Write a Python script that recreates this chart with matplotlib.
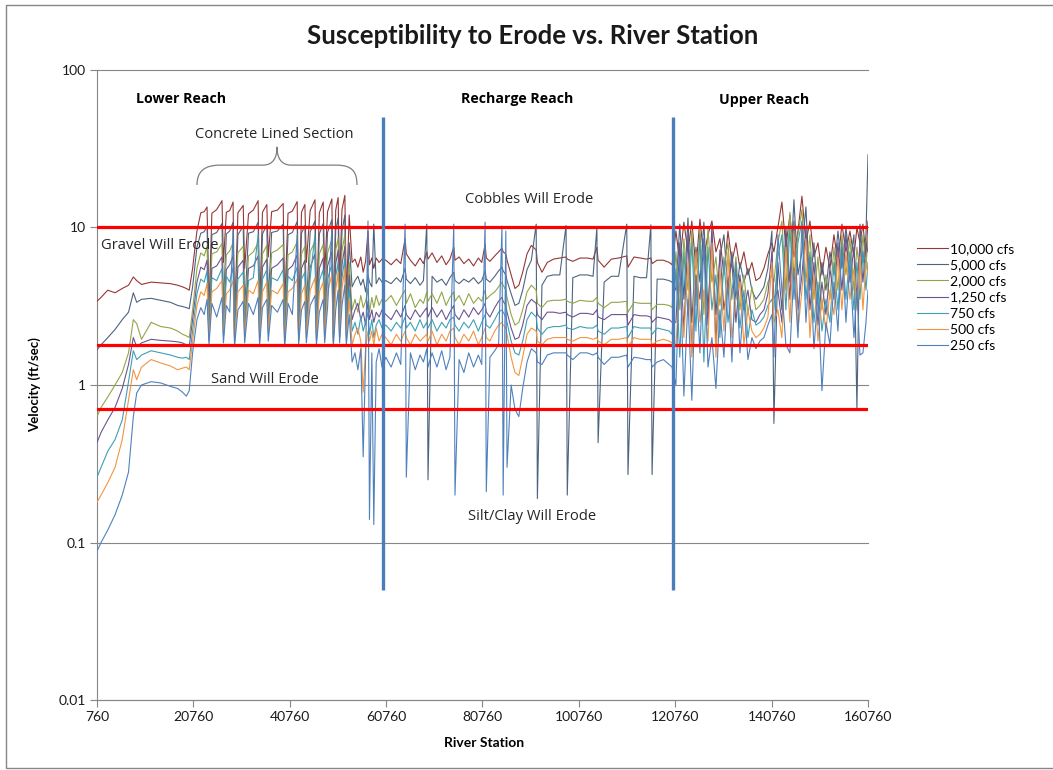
import matplotlib.pyplot as plt
from matplotlib.path import Path
from matplotlib.patches import PathPatch, Rectangle
from matplotlib.ticker import FixedLocator, FixedFormatter, NullLocator

# river stations shared by every flow profile (lower, concrete, transition, recharge, upper)
stations = [
    760, 1600, 3000, 4500, 6000, 7300, 8300, 9000, 10000, 12000, 14000, 16000, 17500, 18500, 19300, 19900,
    20600, 21500,
    22300, 23000, 23600, 24000, 24600, 25600, 26700, 27000, 27600, 28300, 29000, 29300, 30000, 31100,
    31400, 32200, 33200, 34200, 34500, 35100, 36000, 36300, 37000, 38200, 39400, 39700, 40400, 41300,
    42300, 42600, 43200, 43900, 44200, 45000, 46000, 46300, 46900, 47700, 48000, 48600, 49500, 49800,
    50300, 50800, 51100, 51600, 52200, 52500,
    53100, 53700, 54300, 54900, 55500, 56000, 56500, 57000, 57300, 57800, 58200, 58700, 59300, 59900,
    60700, 61800, 62900, 63800, 64700, 64950, 65800, 66800, 67800, 68500, 69200, 69450, 70300, 71300,
    72300, 73200, 74000, 74800, 75050, 75900, 76900, 77900, 78900, 79900, 80600, 81300, 81550, 82300,
    83300, 84100, 84800, 85050, 85600, 85850, 86700, 87500, 88300, 89100, 90000, 90900, 91900, 92150,
    93100, 94200, 95500, 96800, 98100, 98350, 99500, 101000, 102500, 103700, 104500, 104750, 106000,
    107500, 109000, 110700, 110950, 112200, 113500, 114800, 115700, 115950, 117000, 118300, 119500, 120100,
    120900, 121700, 122550, 123400, 124200, 125050, 125880, 126700, 127550, 128370, 129200, 130030,
    130860, 131700, 132520, 133350, 134180, 135010, 135840, 136670, 137500, 138330, 139160, 139990,
    140820, 141230, 142060, 142890, 143720, 144550, 145390, 146220, 147050, 147880, 148710, 149540,
    150370, 151200, 152030, 152860, 153690, 154520, 155350, 156180, 157010, 157840, 158460, 159090,
    159710, 160340, 160760,
]

v10000 = [
    3.4, 3.6, 4.0, 3.85, 4.1, 4.3, 4.85, 4.6, 4.35, 4.5, 4.45, 4.4, 4.3, 4.2, 4.1, 4.0,
    5.5, 9.5,
    12.4, 12.6, 13.5, 3.0, 12.3, 13.0, 14.8, 6.0, 12.5, 12.8, 14.5, 2.5, 12.4, 13.8, 5.5, 12.2, 12.9, 14.8,
    2.8, 12.5, 14.0, 6.5, 12.6, 12.9, 14.2, 3.2, 12.3, 12.7, 14.6, 2.6, 12.5, 14.0, 6.0, 12.8, 15.0, 3.0,
    12.4, 14.5, 5.0, 12.6, 15.2, 2.7, 12.9, 15.5, 4.5, 13.0, 16.0, 3.5,
    12.0, 6.0, 6.3, 5.6, 6.5, 5.2, 6.1, 9.5, 5.8, 6.4, 5.5, 6.4, 6.0, 6.3,
    6.2, 5.8, 6.3, 5.9, 8.5, 6.8, 6.2, 5.7, 6.4, 5.9, 7.0, 6.3, 6.9, 6.0, 6.6, 5.8, 6.3, 7.5, 6.2, 6.5,
    5.9, 6.3, 5.7, 6.4, 6.0, 7.8, 6.4, 6.1, 6.6, 7.0, 7.4, 7.0, 6.8, 6.2, 5.0, 4.1, 4.3, 5.2, 6.8, 7.7,
    7.2, 6.0, 5.2, 6.0, 6.3, 6.4, 6.5, 6.3, 6.1, 6.4, 6.4, 6.3, 7.5, 6.2, 5.6, 6.3, 6.4, 6.6, 5.6, 6.5,
    6.4, 6.3, 6.4, 5.9, 6.2, 6.2, 6.0, 5.8,
    9.5, 6.0, 10.8, 7.0, 11.0, 5.5, 11.3, 6.5, 9.0, 11.0, 7.0, 8.5, 5.0, 9.5, 6.0, 8.0, 5.5, 7.0, 5.0,
    6.0, 4.6, 4.8, 5.5, 6.8, 8.0, 7.0, 10.0, 14.5, 7.5, 12.0, 6.5, 9.5, 15.8, 8.0, 11.0, 6.5, 8.0, 5.0,
    7.5, 5.5, 9.0, 6.0, 10.5, 7.0, 9.5, 6.5, 10.0, 8.0, 10.5, 6.5, 11.0,
]

v5000 = [
    1.67, 1.8, 2.0, 2.25, 2.6, 2.9, 3.85, 3.35, 3.5, 3.55, 3.45, 3.35, 3.2, 3.15, 3.1, 3.05,
    4.2, 7.5,
    9.2, 9.4, 10.2, 2.6, 9.0, 9.3, 10.6, 3.2, 9.1, 9.5, 10.8, 2.3, 9.0, 10.2, 3.0, 9.2, 9.4, 10.8,
    2.4, 9.1, 10.4, 3.4, 9.3, 9.5, 10.5, 2.5, 9.0, 9.3, 10.9, 2.3, 9.2, 10.3, 3.1, 9.4, 11.0, 2.5,
    9.1, 10.6, 2.9, 9.3, 11.2, 2.3, 9.6, 11.5, 2.8, 9.5, 12.0, 2.6,
    8.0, 4.2, 4.6, 4.9, 4.3, 4.7, 3.9, 5.0, 4.5, 4.2, 10.5, 4.4, 4.8, 4.5,
    4.6, 4.4, 4.8, 4.5, 5.5, 4.7, 4.4, 4.8, 4.3, 4.6, 10.5, 0.25, 4.9, 4.5, 4.7, 4.3, 4.8, 5.2, 4.6, 4.4,
    4.7, 4.5, 4.8, 4.4, 4.6, 5.3, 4.7, 4.5, 4.9, 5.3, 5.6, 5.3, 5.0, 4.6, 3.8, 3.2, 3.3, 4.0, 5.4, 6.2,
    10.5, 0.19, 4.3, 4.9, 5.0, 5.0, 10.3, 0.2, 4.8, 5.0, 5.0, 4.9, 10.0, 0.43, 4.5, 4.9, 4.9, 10.5, 0.27,
    4.9, 4.8, 4.8, 10.4, 0.27, 4.7, 4.7, 4.6, 4.5,
    4.0, 10.5, 3.5, 11.5, 2.5, 7.5, 4.5, 10.8, 3.0, 8.5, 2.8, 6.5, 9.0, 4.0, 7.0, 3.5, 6.0, 4.5, 5.5,
    4.0, 3.5, 3.8, 4.2, 5.5, 9.5, 0.57, 6.0, 3.0, 10.0, 4.5, 15.0, 5.0, 7.0, 13.5, 4.0, 8.0, 3.5, 6.0,
    4.0, 7.0, 5.0, 9.5, 5.5, 10.0, 6.0, 9.0, 0.7, 10.5, 6.0, 9.0, 29.0,
]

v2000 = [
    0.63, 0.72, 0.84, 1.0, 1.2, 1.6, 2.6, 2.45, 1.95, 2.5, 2.35, 2.3, 2.2, 2.1, 2.05, 2.0,
    3.0, 5.5,
    6.9, 6.6, 7.6, 2.2, 6.8, 7.0, 7.9, 2.6, 6.7, 7.1, 8.0, 2.1, 6.9, 7.6, 2.5, 6.6, 7.0, 8.0,
    2.2, 6.8, 7.7, 2.7, 6.9, 7.2, 7.8, 2.2, 6.7, 7.0, 8.1, 2.1, 6.8, 7.6, 2.5, 7.0, 8.2, 2.2,
    6.8, 7.8, 2.4, 6.9, 8.4, 2.1, 7.2, 8.6, 2.4, 7.1, 9.0, 2.3,
    6.0, 3.0, 3.5, 2.9, 3.7, 3.1, 3.4, 4.1, 2.9, 3.6, 3.1, 3.7, 3.2, 3.5,
    3.4, 3.7, 3.2, 3.6, 4.0, 3.3, 3.8, 3.1, 3.5, 3.3, 3.9, 3.4, 3.8, 3.3, 3.9, 3.2, 3.6, 3.9, 3.4, 3.7,
    3.2, 3.8, 3.3, 3.6, 3.4, 4.0, 3.5, 3.7, 3.9, 4.2, 4.5, 4.3, 4.0, 3.6, 2.8, 2.4, 2.5, 3.0, 3.9, 4.3,
    4.0, 3.3, 3.1, 3.4, 3.45, 3.45, 3.5, 3.4, 3.3, 3.45, 3.4, 3.4, 3.6, 3.3, 3.1, 3.35, 3.35, 3.4, 2.9,
    3.35, 3.3, 3.3, 3.3, 3.0, 3.25, 3.25, 3.2, 3.1,
    7.0, 3.0, 8.5, 4.0, 9.5, 3.2, 10.0, 2.8, 9.8, 4.5, 6.5, 3.2, 5.5, 8.0, 3.5, 6.5, 3.0, 5.0, 2.8,
    4.2, 3.0, 3.2, 3.5, 4.5, 5.0, 4.5, 8.0, 11.0, 4.0, 12.5, 5.0, 9.0, 13.0, 4.5, 9.0, 3.5, 6.5, 3.0,
    5.0, 3.5, 7.5, 4.0, 9.0, 5.0, 8.5, 4.0, 7.5, 5.0, 9.0, 5.5, 9.0,
]

v1250 = [
    0.43, 0.5, 0.6, 0.72, 0.95, 1.35, 2.0, 1.75, 1.85, 1.95, 1.92, 1.9, 1.88, 1.85, 1.8, 1.75,
    2.6, 4.5,
    5.6, 5.4, 6.2, 2.1, 5.5, 5.7, 6.5, 2.3, 5.4, 5.8, 6.6, 2.0, 5.6, 6.2, 2.2, 5.5, 5.7, 6.6,
    2.1, 5.6, 6.3, 2.4, 5.5, 5.8, 6.4, 2.0, 5.4, 5.7, 6.7, 2.0, 5.5, 6.2, 2.3, 5.6, 6.8, 2.1,
    5.5, 6.4, 2.2, 5.7, 7.0, 2.0, 5.9, 7.2, 2.2, 5.8, 7.6, 2.1,
    5.0, 2.6, 3.0, 3.3, 2.6, 2.9, 2.4, 3.4, 2.6, 3.0, 2.5, 2.9, 2.7, 3.0,
    2.8, 2.6, 3.0, 2.7, 3.2, 2.8, 2.6, 3.0, 2.7, 2.9, 3.1, 2.7, 3.1, 2.7, 3.0, 2.6, 2.9, 3.2, 2.8, 2.6,
    3.0, 2.7, 3.1, 2.8, 3.0, 3.3, 2.9, 2.7, 3.1, 3.4, 3.6, 3.4, 3.2, 2.9, 2.3, 1.95, 2.0, 2.4, 3.2, 3.5,
    3.3, 2.8, 2.6, 2.9, 2.9, 2.85, 2.9, 2.8, 2.7, 2.85, 2.85, 2.8, 3.0, 2.7, 2.6, 2.8, 2.8, 2.8, 2.4,
    2.8, 2.75, 2.75, 2.7, 2.5, 2.7, 2.65, 2.6, 2.5,
    2.5, 8.0, 2.2, 9.0, 1.6, 5.0, 3.5, 8.5, 2.4, 10.5, 1.8, 7.2, 3.0, 4.5, 6.0, 2.5, 5.0, 3.0, 4.0,
    2.6, 2.5, 2.8, 3.0, 3.8, 7.0, 3.5, 4.0, 2.5, 8.5, 3.5, 11.0, 3.0, 5.0, 10.0, 3.0, 6.0, 2.4, 4.5,
    2.8, 5.5, 3.5, 8.0, 4.0, 9.0, 4.5, 7.5, 3.5, 8.0, 4.5, 8.0, 7.0,
]

v750 = [
    0.26, 0.3, 0.38, 0.45, 0.6, 1.05, 1.65, 1.45, 1.55, 1.65, 1.6, 1.55, 1.5, 1.48, 1.5, 1.45,
    2.2, 3.8,
    4.7, 4.5, 5.3, 2.0, 4.8, 4.6, 5.5, 2.1, 4.9, 4.5, 5.6, 1.95, 4.7, 5.2, 2.1, 4.6, 4.8, 9.0,
    1.95, 4.7, 5.4, 2.2, 4.8, 4.6, 5.4, 1.9, 4.9, 4.6, 5.6, 1.95, 4.7, 5.2, 2.1, 4.8, 9.0, 1.95,
    4.6, 5.4, 2.0, 4.7, 5.8, 1.9, 4.9, 6.0, 2.0, 4.8, 6.4, 2.0,
    4.2, 2.2, 2.5, 2.1, 2.7, 2.2, 2.5, 2.9, 2.1, 2.6, 2.0, 2.4, 2.6, 2.3,
    2.4, 2.2, 2.5, 2.3, 2.7, 2.3, 2.5, 2.2, 2.6, 2.3, 2.5, 2.3, 2.6, 2.2, 2.5, 2.3, 2.6, 2.7, 2.4, 2.2,
    2.5, 2.3, 2.6, 2.2, 2.5, 2.8, 2.4, 2.3, 2.6, 2.9, 3.0, 2.9, 2.7, 2.5, 1.9, 1.6, 1.55, 1.9, 2.6, 2.9,
    2.7, 2.3, 2.1, 2.3, 2.35, 2.35, 2.4, 2.3, 2.25, 2.35, 2.3, 2.3, 2.4, 2.2, 2.1, 2.3, 2.3, 2.35, 2.0,
    2.35, 2.3, 2.3, 2.3, 2.1, 2.3, 2.25, 2.2, 2.1,
    5.5, 1.5, 7.0, 2.8, 8.0, 2.2, 9.0, 1.4, 7.5, 3.0, 5.0, 2.0, 6.5, 2.5, 4.0, 5.5, 2.3, 4.0, 2.0,
    3.0, 2.4, 2.5, 2.7, 3.2, 3.5, 3.0, 6.5, 9.0, 3.0, 10.0, 3.5, 8.0, 11.0, 3.5, 7.0, 2.5, 4.5, 2.2,
    3.5, 2.5, 6.0, 3.0, 7.5, 3.5, 7.0, 3.0, 6.0, 3.5, 7.0, 4.0, 6.0,
]

v500 = [
    0.18, 0.2, 0.24, 0.3, 0.45, 0.8, 1.25, 1.08, 1.3, 1.45, 1.38, 1.32, 1.25, 1.28, 1.3, 1.25,
    1.9, 3.2,
    3.9, 3.7, 4.4, 1.9, 3.9, 4.1, 4.6, 2.0, 3.8, 4.0, 4.6, 1.85, 3.9, 4.3, 2.0, 4.0, 3.8, 4.6,
    1.85, 3.9, 4.5, 2.1, 4.0, 3.8, 4.4, 1.85, 3.9, 4.1, 4.7, 1.9, 3.8, 4.3, 2.0, 4.0, 4.8, 1.9,
    3.9, 4.5, 1.95, 3.9, 5.0, 1.85, 4.0, 5.2, 1.95, 4.1, 5.5, 1.9,
    3.5, 1.8, 2.1, 2.3, 1.9, 0.9, 1.7, 2.2, 1.9, 2.2, 1.8, 2.3, 1.9, 2.1,
    2.0, 1.8, 2.1, 1.9, 2.2, 2.0, 1.8, 2.1, 1.9, 2.0, 2.1, 1.9, 2.2, 1.8, 2.1, 1.9, 2.2, 2.3, 2.0, 1.8,
    2.1, 1.9, 2.2, 1.8, 2.0, 2.3, 2.0, 1.9, 2.2, 2.4, 2.5, 2.4, 2.3, 2.1, 1.5, 1.2, 1.15, 1.5, 2.1, 2.3,
    2.2, 1.9, 1.8, 1.95, 2.0, 2.0, 2.0, 1.95, 1.9, 2.0, 2.0, 1.95, 2.0, 1.9, 1.8, 1.95, 1.95, 2.0, 1.75,
    2.0, 1.95, 1.95, 1.95, 1.8, 1.9, 1.95, 1.9, 1.85,
    1.8, 4.5, 2.0, 6.0, 1.5, 7.0, 2.5, 4.0, 1.9, 8.0, 1.5, 5.5, 2.2, 7.0, 2.0, 3.5, 4.5, 1.8, 3.0,
    2.2, 2.0, 2.1, 2.3, 2.7, 6.0, 2.5, 3.0, 2.0, 7.5, 2.5, 9.5, 2.2, 4.0, 8.5, 2.0, 5.0, 1.9, 3.5,
    2.2, 4.0, 2.8, 6.5, 3.0, 7.0, 3.5, 5.5, 3.0, 6.5, 3.0, 6.0, 5.0,
]

v250 = [
    0.088, 0.1, 0.12, 0.15, 0.2, 0.28, 0.63, 0.89, 1.0, 1.05, 1.03, 0.98, 0.95, 0.9, 0.85, 0.92,
    1.6, 2.6,
    3.1, 2.8, 3.5, 1.8, 3.3, 2.7, 3.6, 1.85, 3.2, 2.9, 9.5, 1.75, 3.0, 3.4, 1.85, 3.3, 2.8, 3.6,
    1.8, 3.1, 3.5, 1.9, 3.2, 2.9, 3.5, 1.75, 3.3, 2.8, 9.0, 1.8, 3.0, 3.4, 1.85, 3.2, 3.7, 1.8,
    2.9, 3.5, 1.85, 3.1, 9.8, 1.75, 3.0, 4.0, 1.85, 3.2, 4.3, 1.8,
    2.8, 1.4, 1.6, 1.25, 1.7, 0.35, 1.5, 11.0, 0.14, 1.6, 0.13, 1.4, 1.7, 1.3,
    1.5, 1.3, 1.6, 1.35, 10.5, 0.26, 1.6, 1.25, 1.55, 1.4, 1.7, 1.3, 1.6, 1.3, 1.65, 1.25, 1.5, 10.5,
    0.2, 1.45, 1.2, 1.6, 1.3, 1.55, 1.35, 10.8, 0.21, 1.5, 1.65, 1.8, 10.2, 0.2, 9.5, 0.3, 1.0, 0.7,
    0.63, 0.95, 1.4, 1.7, 1.6, 1.4, 1.35, 1.55, 1.6, 1.6, 1.6, 1.55, 1.45, 1.6, 1.6, 1.55, 1.6, 1.5,
    1.35, 1.5, 1.5, 1.55, 1.3, 1.5, 1.48, 1.45, 1.45, 1.3, 1.4, 1.45, 1.35, 1.3,
    1.0, 6.5, 0.85, 3.5, 0.8, 5.0, 1.6, 8.0, 1.3, 2.0, 0.95, 3.0, 1.5, 4.5, 1.4, 6.0, 1.6, 3.5, 1.45,
    2.0, 1.7, 1.9, 2.0, 2.4, 2.8, 1.5, 9.0, 4.0, 1.8, 1.6, 5.5, 2.0, 10.5, 2.5, 6.5, 1.7, 3.8, 0.92,
    2.5, 1.8, 4.5, 2.2, 8.0, 2.5, 6.0, 2.0, 4.0, 1.55, 1.6, 2.5, 4.0,
]

flows = [v10000, v5000, v2000, v1250, v750, v500, v250]
flow_labels = ['10,000 cfs', '5,000 cfs', '2,000 cfs', '1,250 cfs', '750 cfs', '500 cfs', '250 cfs']
flow_colors = ['#953735', '#4d6480', '#93a54a', '#6c558f', '#3f9fb5', '#f29540', '#4f81bd']

# erosion velocity thresholds (ft/sec) and reach boundaries (station)
thresholds = [10, 1.8, 0.7]
reach_breaks = [60200, 120300]
reach_line_span = [0.05, 50]

x_ticks = [760, 20760, 40760, 60760, 80760, 100760, 120760, 140760, 160760]
x_tick_labels = ['760', '20760', '40760', '60760', '80760', '100760', '120760', '140760', '160760']
y_ticks = [0.01, 0.1, 1, 10, 100]
y_tick_labels = ['0.01', '0.1', '1', '10', '100']

plt.rcParams['font.family'] = ['Lato', 'DejaVu Sans']

fig = plt.figure(figsize=(10.53, 7.70), dpi=100)
ax = fig.add_axes([97 / 1053, 70 / 770, 771 / 1053, 630 / 770])

for vals, lab, col in zip(flows, flow_labels, flow_colors):
    ax.plot(stations, vals, color=col, lw=0.8, label=lab, zorder=3)

for t in thresholds:
    ax.axhline(t, color='#ff0000', lw=2.3, zorder=5)
ax.vlines(reach_breaks, reach_line_span[0], reach_line_span[1], color='#4a7ebb', lw=2.4, zorder=6)

ax.set_yscale('log')
ax.set_ylim(0.01, 100)
ax.set_xlim(760, 160760)
ax.yaxis.set_major_locator(FixedLocator(y_ticks))
ax.yaxis.set_major_formatter(FixedFormatter(y_tick_labels))
ax.yaxis.set_minor_locator(NullLocator())
ax.set_xticks(x_ticks)
ax.set_xticklabels(x_tick_labels)
ax.grid(axis='y', color='#868686', lw=0.8, zorder=1)
for gl in ax.get_ygridlines():
    gl.set_clip_on(False)
ax.spines['top'].set_visible(False)
ax.spines['right'].set_visible(False)
ax.spines['left'].set_color('#868686')
ax.spines['bottom'].set_color('#868686')
ax.tick_params(direction='out', length=5, color='#868686', labelsize=10, pad=3, labelcolor='#1a1a1a')

# section labels
bold = dict(family=['Open Sans', 'DejaVu Sans'], fontweight='bold', fontsize=10.2, ha='center', va='center')
plain = dict(family=['Open Sans', 'DejaVu Sans'], fontsize=10.6, ha='center', va='center', color='#262626')
ax.text(0.109, 0.954, 'Lower Reach', transform=ax.transAxes, **bold)
ax.text(0.545, 0.954, 'Recharge Reach', transform=ax.transAxes, **bold)
ax.text(0.865, 0.952, 'Upper Reach', transform=ax.transAxes, **bold)
ax.text(0.2296, 0.897, 'Concrete Lined Section', transform=ax.transAxes, **plain)
ax.text(0.560, 0.794, 'Cobbles Will Erode', transform=ax.transAxes, **plain)
ax.text(0.0817, 0.722, 'Gravel Will Erode', transform=ax.transAxes, **plain)
ax.text(0.218, 0.5095, 'Sand Will Erode', transform=ax.transAxes, **plain)
ax.text(0.564, 0.2905, 'Silt/Clay Will Erode', transform=ax.transAxes, **plain)

# curly brace over the concrete lined section
brace = Path(
    [(0.1297, 0.8175), (0.1297, 0.840), (0.140, 0.849), (0.160, 0.849),
     (0.215, 0.849),
     (0.228, 0.849), (0.2335, 0.860), (0.2335, 0.878),
     (0.2335, 0.860), (0.239, 0.849), (0.252, 0.849),
     (0.310, 0.849),
     (0.330, 0.849), (0.3372, 0.840), (0.3372, 0.8175)],
    [Path.MOVETO, Path.CURVE4, Path.CURVE4, Path.CURVE4,
     Path.LINETO,
     Path.CURVE4, Path.CURVE4, Path.CURVE4,
     Path.CURVE4, Path.CURVE4, Path.CURVE4,
     Path.LINETO,
     Path.CURVE4, Path.CURVE4, Path.CURVE4])
ax.add_patch(PathPatch(brace, transform=ax.transAxes, fc='none', ec='#7f7f7f', lw=0.9))

fig.text(533 / 1053, 1 - 36 / 770, 'Susceptibility to Erode vs. River Station',
         ha='center', va='center', fontsize=18.5, fontweight='bold', color='#1a1a1a')
fig.text(35 / 1053, 1 - 385 / 770, 'Velocity (ft/sec)', rotation=90,
         ha='center', va='center', fontsize=9.5, fontweight='bold')
fig.text(484 / 1053, 1 - 743 / 770, 'River Station',
         ha='center', va='center', fontsize=10, fontweight='bold')

fig.legend(loc='upper left', bbox_to_anchor=(917 / 1053, 1 - 243 / 770), frameon=False,
           fontsize=10, handlelength=2.2, handletextpad=0.2, labelspacing=0.3,
           borderpad=0, borderaxespad=0)

# chart area border
fig.patches.append(Rectangle((6 / 1053, 2 / 770), 1.1, 763 / 770, transform=fig.transFigure,
                             fill=False, ec='#868686', lw=1))

fig.savefig('out.png', dpi=100)
